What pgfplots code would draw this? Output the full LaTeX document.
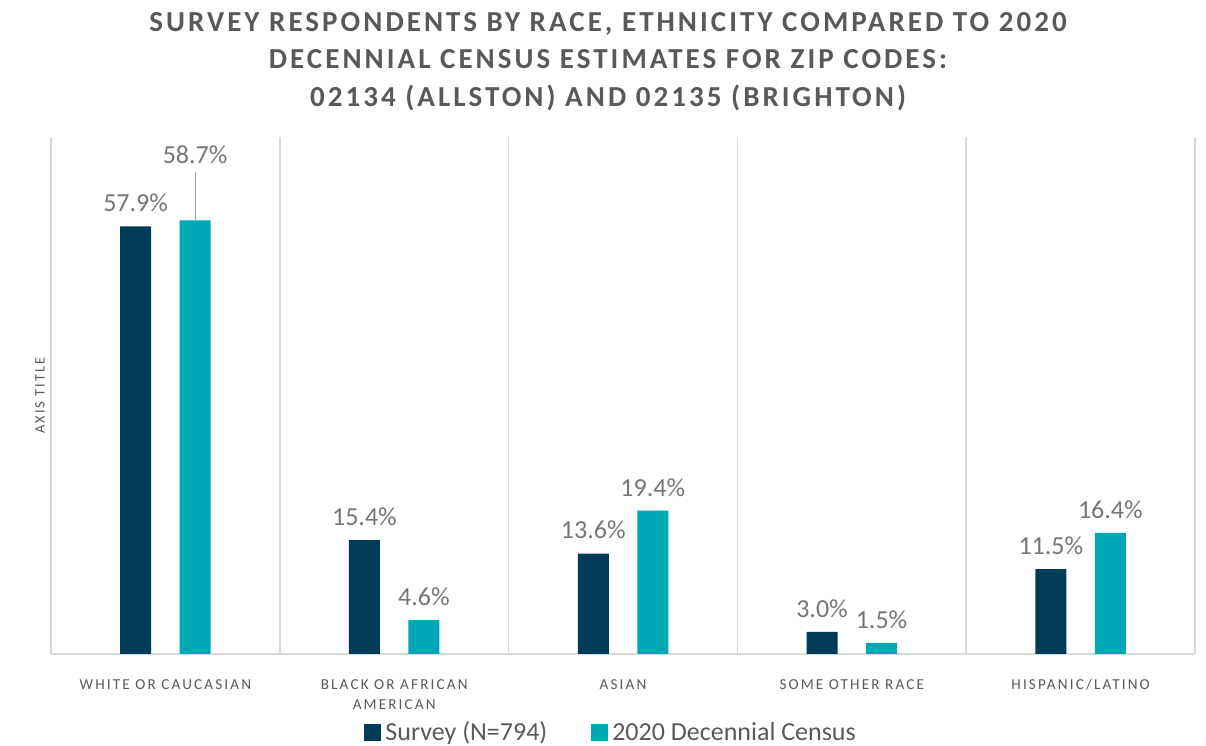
\documentclass[border=0pt]{standalone}
\usepackage{pgfplots}
\pgfplotsset{compat=1.18}
\usepackage{fontspec}
\setmainfont{Carlito}
\newfontfamily\catfont[LetterSpace=14]{Carlito}
\newfontfamily\titlefont[LetterSpace=10.5]{Carlito}
\definecolor{navy}{HTML}{003C57}
\definecolor{teal2}{HTML}{00A8B5}
\definecolor{txt}{HTML}{595959}
\definecolor{lbl}{HTML}{767676}
\definecolor{gridc}{HTML}{D9D9D9}
\begin{document}
\begin{tikzpicture}
\begin{axis}[
  scale only axis, width=572pt, height=258.5pt, clip=false,
  xmin=-0.5, xmax=4.5, ymin=0, ymax=70,
  ybar=14.25pt, bar width=15.5pt,
  axis line style={draw=none},
  xtick={0,1,2,3,4},
  xticklabels={WHITE OR CAUCASIAN, {BLACK OR AFRICAN\\AMERICAN}, ASIAN, SOME OTHER RACE, HISPANIC/LATINO},
  xticklabel style={font=\catfont\fontsize{7.6}{10}\selectfont, text=txt, align=center, anchor=north, inner sep=0pt, yshift=-12.5pt},
  minor xtick={-0.5,0.5,...,4.5},
  xminorgrids, minor grid style={gridc, line width=0.75pt},
  ytick={0}, yticklabels={}, ymajorgrids, major grid style={gridc, line width=0.75pt},
  major tick length=0pt, minor tick length=0pt, tick style={draw=none},
  ylabel={AXIS TITLE},
  ylabel style={font=\catfont\fontsize{7.2}{9}\selectfont, text=txt, at={(axis description cs:-0.0096,0.5)}, anchor=center},
  nodes near coords, point meta=explicit symbolic,
  every node near coord/.append style={font=\fontsize{13}{15}\selectfont, text=lbl, anchor=south, inner sep=0pt, yshift=7pt},
  legend style={at={(axis description cs:0.4905,-0.1528)}, anchor=center, draw=none, fill=none,
    font=\fontsize{13}{15}\selectfont, text=txt, legend columns=2,
    /tikz/every even column/.append style={column sep=20pt}},
  legend image code/.code={\fill[#1] (0pt,-4.25pt) rectangle (8.5pt,4.25pt);},
]
\addplot[fill=navy, draw=none] coordinates {
  (0,57.9) [57.9\%]
  (1,15.4) [15.4\%]
  (2,13.6) [13.6\%]
  (3,3.0) [3.0\%]
  (4,11.5) [11.5\%]
};
\addplot[fill=teal2, draw=none] coordinates {
  (0,58.7) []
  (1,4.6) [4.6\%]
  (2,19.4) [19.4\%]
  (3,1.5) [1.5\%]
  (4,16.4) [16.4\%]
};
\legend{Survey (N=794), 2020 Decennial Census}
\draw[color=gray!70, line width=0.6pt] ([xshift=14.875pt]axis cs:0,65.26) -- ([xshift=14.875pt]axis cs:0,58.7);
\node[font=\fontsize{13}{15}\selectfont, text=lbl, inner sep=0pt, anchor=center] at ([xshift=14.875pt]axis cs:0,67.63) {58.7\%};
\node[anchor=north, align=center, inner sep=0pt, text=txt, font=\titlefont\bfseries\fontsize{14.5}{18.75}\selectfont] at (rel axis cs:0.4869,1.2418)
  {SURVEY RESPONDENTS BY RACE, ETHNICITY COMPARED TO 2020\\DECENNIAL CENSUS ESTIMATES FOR ZIP CODES:\\02134 (ALLSTON) AND 02135 (BRIGHTON)};
\coordinate (bbl) at (rel axis cs:-0.04458,-0.17795);
\coordinate (btr) at (rel axis cs:1.00962,1.26499);
\end{axis}
\pgfresetboundingbox
\useasboundingbox (bbl) rectangle (btr);
\end{tikzpicture}
\end{document}
